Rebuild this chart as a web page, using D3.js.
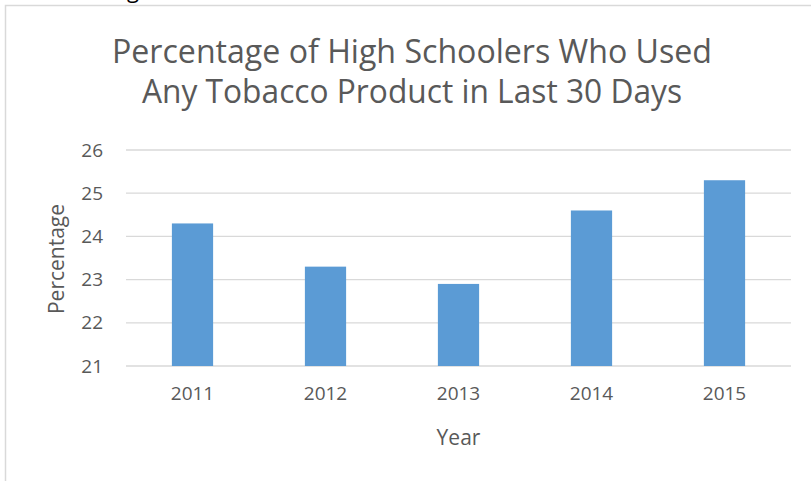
<!DOCTYPE html>
<html>
<head>
<meta charset="utf-8">
<script src="https://cdn.jsdelivr.net/npm/d3@7"></script>
<style>
  html, body { margin: 0; padding: 0; background: #fff; }
  svg { display: block; font-family: "Open Sans", "Noto Sans", sans-serif; }
</style>
</head>
<body>
<div id="chart"></div>
<script>
// chart data
const years = ['2011', '2012', '2013', '2014', '2015'];
const percentages = [24.3, 23.3, 22.9, 24.6, 25.3];
const yTicks = [21, 22, 23, 24, 25, 26];
const titleLines = ['Percentage of High Schoolers Who Used', 'Any Tobacco Product in Last 30 Days'];

const width = 811, height = 481;
const plot = { left: 126, right: 791, top: 150, bottom: 366 };
const textColor = '#595959';

const svg = d3.select('#chart').append('svg')
    .attr('width', width)
    .attr('height', height);

// frame of the chart object (runs off the page at right / bottom)
svg.append('rect')
    .attr('x', 5.5).attr('y', 5.5)
    .attr('width', width).attr('height', height)
    .attr('fill', 'none')
    .attr('stroke', '#d9d9d9')
    .attr('stroke-width', 1.5);

// leftover descender of the document text above the chart
svg.append('text')
    .attr('x', 127).attr('y', -2)
    .attr('font-size', 22)
    .attr('fill', '#000')
    .text('g');

const x = d3.scaleBand()
    .domain(years)
    .range([plot.left, plot.right])
    .paddingInner(0.69)
    .paddingOuter(0.345);

const y = d3.scaleLinear()
    .domain([21, 26])
    .range([plot.bottom, plot.top]);

// gridlines
svg.append('g')
    .attr('class', 'grid')
    .selectAll('line')
    .data(yTicks)
    .enter()
    .append('line')
    .attr('x1', plot.left)
    .attr('x2', plot.right)
    .attr('y1', d => y(d))
    .attr('y2', d => y(d))
    .attr('stroke', '#d9d9d9')
    .attr('stroke-width', 1.3);

// bars
svg.selectAll('rect.bar')
    .data(years)
    .enter()
    .append('rect')
    .attr('class', 'bar')
    .attr('x', d => x(d))
    .attr('width', x.bandwidth())
    .attr('y', (d, i) => y(percentages[i]))
    .attr('height', (d, i) => y(21) - y(percentages[i]))
    .attr('fill', '#5b9bd5');

// y axis
const yAxis = svg.append('g')
    .attr('class', 'axis')
    .attr('transform', `translate(${plot.left - 23}, 0)`)
    .call(d3.axisLeft(y).tickValues(yTicks).tickFormat(d3.format('d')).tickSize(0).tickPadding(0));
yAxis.select('.domain').remove();
yAxis.selectAll('text')
    .attr('font-size', 19)
    .attr('font-family', '"Open Sans", sans-serif')
    .attr('fill', textColor);

// x axis
const xAxis = svg.append('g')
    .attr('class', 'axis')
    .attr('transform', `translate(0, ${plot.bottom + 20})`)
    .call(d3.axisBottom(x).tickSize(0).tickPadding(0));
xAxis.select('.domain').remove();
xAxis.selectAll('text')
    .attr('font-size', 19)
    .attr('font-family', '"Open Sans", sans-serif')
    .attr('fill', textColor);

// axis titles
svg.append('text')
    .attr('x', (plot.left + plot.right) / 2)
    .attr('y', 445)
    .attr('text-anchor', 'middle')
    .attr('font-size', 21)
    .attr('fill', textColor)
    .text('Year');

svg.append('text')
    .attr('transform', `translate(64, ${(plot.top + plot.bottom) / 2 + 1}) rotate(-90)`)
    .attr('text-anchor', 'middle')
    .attr('font-size', 21)
    .attr('fill', textColor)
    .text('Percentage');

// title
svg.append('g')
    .selectAll('text')
    .data(titleLines)
    .enter()
    .append('text')
    .attr('x', 412)
    .attr('y', (d, i) => 63 + i * 40)
    .attr('text-anchor', 'middle')
    .attr('font-size', 32)
    .attr('fill', textColor)
    .attr('textLength', (d, i) => i === 0 ? 600 : 540)
    .attr('lengthAdjust', 'spacingAndGlyphs')
    .text(d => d);
</script>
</body>
</html>
